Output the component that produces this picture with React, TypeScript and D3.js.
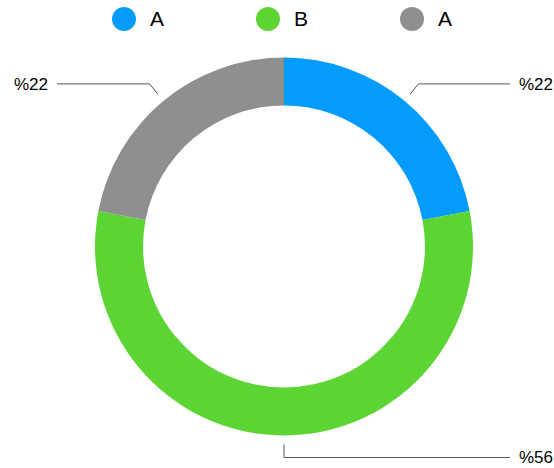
import * as d3 from "d3";

const labels = ["A", "B", "A"];
const values = [22, 56, 22];
const colors = ["#049cfc", "#5cd434", "#8f8f8f"];

const width = 554;
const height = 468;
const cx = 284;
const cy = 246.5;
const outerR = 189;
const innerR = 141;

export default function App() {
  const pie = d3.pie<number>().sort(null).value((d) => d);
  const arcs = pie(values);
  const arc = d3.arc<d3.PieArcDatum<number>>().innerRadius(innerR).outerRadius(outerR);
  const startArc = d3.arc<d3.PieArcDatum<number>>().innerRadius(198).outerRadius(198);
  const elbowArc = d3.arc<d3.PieArcDatum<number>>().innerRadius(211).outerRadius(211);
  const total = d3.sum(values);

  const legendX = d3.scalePoint<number>().domain(d3.range(labels.length)).range([124, 412]);

  return (
    <svg width={width} height={height} style={{position: "absolute", left: 0, top: 0}} fontFamily="Liberation Sans, Arial, sans-serif">
      <g>
        {labels.map((l, i) => (
          <g key={i} transform={`translate(${legendX(i)},19)`}>
            <circle r={12} fill={colors[i]} />
            <text x={26} dy="0.35em" fontSize={21} fill="#000">{l}</text>
          </g>
        ))}
      </g>
      <g transform={`translate(${cx},${cy})`}>
        {arcs.map((a, i) => (
          <path key={i} d={arc(a) ?? ""} fill={colors[i]} />
        ))}
        {arcs.map((a, i) => {
          const [sx, sy] = startArc.centroid(a);
          const [ex, ey] = elbowArc.centroid(a);
          const mid = (a.startAngle + a.endAngle) / 2;
          const right = mid < Math.PI * 0.99 || Math.abs(mid - Math.PI) < 0.01;
          const endX = right ? 510 - cx : 57 - cx;
          const textX = right ? 519 - cx : 48 - cx;
          return (
            <g key={"l" + i}>
              <polyline points={`${sx},${sy} ${ex},${ey} ${endX},${ey}`} fill="none" stroke="#555" strokeWidth={1} />
              <text x={textX} y={ey} dy="0.35em" fontSize={17} textAnchor={right ? "start" : "end"} fill="#000">
                {"%" + Math.round((values[i] / total) * 100)}
              </text>
            </g>
          );
        })}
      </g>
    </svg>
  );
}
